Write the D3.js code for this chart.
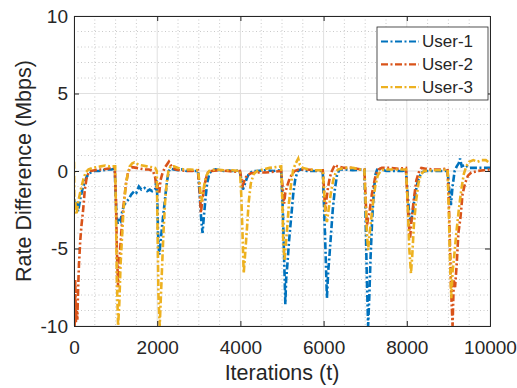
<!DOCTYPE html>
<html><head><meta charset="utf-8">
<script src="https://cdn.jsdelivr.net/npm/d3@7"></script>
<style>body{margin:0;background:#fff}svg{display:block}text{font-family:"Liberation Sans",Arial,Helvetica,sans-serif;fill:#262626}</style>
</head><body>
<script>
const seriesNames = ["User-1","User-2","User-3"];
const seriesColors = ["#0072BD","#D95319","#EDB120"];
const xTicks = [0,2000,4000,6000,8000,10000];
const yTicks = [-10,-5,0,5,10];
const user1 = [[0,-1.8],[30,-2.4],[60,-2.0],[100,-2.6],[150,-1.8],[200,-1.2],[250,-0.8],[300,-0.4],[350,-0.2],[400,-0.1],[500,0],[600,0],[700,0.05],[800,0.1],[900,0.1],[980,0.15],
[1000,-1.5],[1020,-2.8],[1050,-3.4],[1080,-3.0],[1120,-3.2],[1160,-2.6],[1200,-2.2],[1260,-2.0],[1320,-1.8],[1380,-1.5],[1450,-1.3],[1500,-1.4],[1560,-1.0],[1620,-1.2],[1700,-1.1],[1760,-1.3],[1820,-1.2],[1880,-1.3],[1950,-1.2],[1980,-0.6],
[2000,-1.5],[2020,-4.0],[2050,-5.4],[2080,-4.6],[2120,-3.5],[2160,-2.5],[2200,-1.5],[2240,-0.6],[2280,0],[2320,0.15],[2400,0.1],[2500,0.05],[2600,0.1],[2700,0],[2800,0.05],[2900,0],[2980,0],
[3020,-1.5],[3060,-3.2],[3090,-4.0],[3120,-3.0],[3160,-1.8],[3200,-0.8],[3250,-0.2],[3300,0],[3400,0.1],[3500,0.05],[3600,0],[3700,0.05],[3800,0],[3900,0],[3980,0.05],
[4020,-0.5],[4060,-1.2],[4100,-0.9],[4150,-0.5],[4200,-0.2],[4300,0],[4400,0],[4600,0.05],[4800,0],[4980,0.05],
[5020,-2.5],[5050,-5.5],[5080,-8.6],[5100,-7.0],[5130,-6.0],[5170,-4.5],[5220,-3.0],[5270,-1.5],[5320,-0.5],[5380,0],[5450,0.1],[5600,0],[5800,0],[5980,0],
[6020,-3.0],[6050,-5.5],[6080,-8.2],[6110,-6.5],[6140,-5.5],[6180,-4.0],[6220,-2.5],[6270,-1.2],[6320,-0.3],[6380,0.1],[6500,0.1],[6700,0.05],[6900,0.1],[6980,0.1],
[7010,-3],[7040,-7],[7070,-10],[7100,-8],[7130,-5.5],[7170,-3],[7210,-1.2],[7250,-0.2],[7300,0.2],[7400,0.1],[7500,0],[7700,0],[7900,0],[7980,0.05],
[8020,-1.5],[8060,-2.8],[8100,-3.3],[8150,-2.5],[8200,-1.5],[8270,-0.6],[8350,-0.1],[8450,0],[8600,0],[8800,0],[8980,0],
[9020,-1.2],[9060,-2.2],[9100,-1.0],[9150,0],[9200,0.3],[9250,0.5],[9280,0.8],[9320,0.3],[9400,0.4],[9500,0.2],[9700,0.2],[9850,0.2],[10000,0.2]];
const user2 = [[0,-8],[15,-10],[30,-7],[45,-9.8],[60,-8.5],[80,-9.6],[100,-7.5],[120,-6],[150,-4.5],[180,-3.5],[220,-2.5],[260,-1.2],[300,-0.5],[350,-0.1],[400,0],[500,0.05],[600,0.1],[700,0.1],[800,0.15],[900,0.2],[980,0.2],
[1010,-2],[1030,-5],[1060,-7.5],[1080,-6.5],[1110,-5],[1150,-3.5],[1200,-2],[1250,-0.8],[1300,-0.1],[1350,0.2],[1400,0.25],[1500,0.2],[1600,0.15],[1700,0.1],[1800,0.1],[1900,0],[1950,-0.4],[1990,-1.2],
[2020,-0.8],[2050,-1.4],[2080,-0.6],[2120,-0.2],[2180,0.2],[2230,0.4],[2280,0.6],[2320,0.4],[2380,0.2],[2450,0.1],[2550,0.05],[2700,0],[2850,0],[2980,0.05],
[3020,-1.2],[3050,-2.7],[3080,-2.0],[3120,-1.2],[3170,-0.5],[3220,-0.1],[3300,0],[3500,0.05],[3700,0],[3900,-0.05],[3990,0],
[4030,-0.6],[4060,-0.9],[4100,-0.6],[4150,-0.3],[4250,-0.15],[4400,-0.1],[4600,-0.1],[4800,-0.05],[4980,0],
[5020,-1.2],[5050,-2.1],[5080,-1.4],[5120,-1.0],[5170,-0.6],[5220,-0.3],[5300,0],[5400,0.1],[5600,0.1],[5800,0.05],[5980,0.05],
[6010,-1.2],[6040,-2.6],[6070,-1.8],[6110,-1.0],[6150,-0.4],[6200,0],[6270,0.4],[6330,0.3],[6500,0.2],[6700,0.2],[6900,0.1],[6980,0.1],
[7010,-1.8],[7040,-3.6],[7070,-3.0],[7110,-2.5],[7160,-1.5],[7210,-0.8],[7260,-0.2],[7320,0.1],[7400,0.2],[7600,0.2],[7800,0.15],[7980,0.2],
[8010,-1.5],[8050,-3.5],[8080,-4.3],[8120,-3.0],[8170,-1.8],[8230,-0.6],[8300,0],[8350,0.2],[8450,0.15],[8600,0.1],[8800,0.1],[8980,0.15],
[9010,-2],[9040,-5],[9070,-8],[9100,-10],[9130,-7],[9160,-7.5],[9200,-6],[9240,-4],[9290,-3],[9340,-1.5],[9400,-0.8],[9470,-0.3],[9550,-0.1],[9700,0],[9850,0.05],[10000,0.1]];
const user3 = [[0,0.6],[10,-2.5],[30,-2.0],[60,-2.8],[100,-2.0],[140,-1.5],[180,-1.0],[230,-0.5],[280,-0.1],[350,0.1],[450,0.2],[550,0.25],[650,0.3],[750,0.35],[850,0.3],[950,0.3],[990,0.3],
[1010,-3],[1030,-7],[1060,-10],[1090,-8.5],[1120,-6],[1150,-4.5],[1190,-2.5],[1240,-1],[1290,-0.2],[1340,0.3],[1400,0.5],[1450,0.55],[1550,0.4],[1650,0.35],[1750,0.3],[1850,0.25],[1950,0.2],[1990,0],
[2010,-4],[2030,-8],[2060,-10],[2090,-8],[2120,-6],[2150,-4],[2190,-2],[2230,-0.7],[2270,0],[2320,0.3],[2400,0.3],[2500,0.2],[2650,0.1],[2800,0.1],[2980,0.05],
[3020,-0.8],[3060,-2.0],[3090,-1.6],[3130,-0.9],[3180,-0.3],[3250,0],[3400,0.1],[3600,0.05],[3800,0.05],[3990,0],
[4020,-1.5],[4050,-4],[4080,-6.6],[4110,-5.5],[4150,-4],[4200,-2],[4250,-0.8],[4320,-0.2],[4400,0],[4550,0.1],[4700,0.2],[4850,0.25],[4980,0.3],
[5010,-2],[5030,-4.5],[5060,-5.8],[5090,-4.8],[5130,-3.5],[5170,-2.0],[5220,-0.8],[5270,0.1],[5330,0.5],[5390,0.8],[5430,0.4],[5500,0.2],[5650,0.1],[5800,0.05],[5980,0.05],
[6010,-1.2],[6040,-2.5],[6080,-3.3],[6120,-2.5],[6170,-1.5],[6230,-0.6],[6290,-0.1],[6350,0.1],[6500,0.2],[6700,0.2],[6900,0.1],[6980,0.1],
[7010,-2],[7040,-4],[7070,-5.1],[7100,-4.2],[7140,-3.2],[7190,-2.0],[7240,-1.0],[7300,-0.3],[7370,0],[7450,0.1],[7600,0.1],[7800,0.1],[7980,0.1],
[8020,-2],[8060,-5],[8100,-6.6],[8130,-5.5],[8170,-3.5],[8220,-2.0],[8280,-0.8],[8340,-0.2],[8420,0],[8600,0.05],[8800,0.05],[8980,0.1],
[9010,-2.5],[9040,-6],[9070,-8.2],[9100,-6.5],[9140,-5.5],[9190,-4],[9250,-2.5],[9310,-1.2],[9370,-0.2],[9430,0.3],[9500,0.6],[9600,0.7],[9700,0.6],[9800,0.7],[9900,0.7],[10000,0.5]];
const series = [user1, user2, user3];

const W = 517, H = 388;
const m = {left:74, right:490, top:16, bottom:326};
const svg = d3.select("body").append("svg").attr("width",W).attr("height",H);
const x = d3.scaleLinear().domain([0,10000]).range([m.left,m.right]);
const y = d3.scaleLinear().domain([-10,10]).range([m.bottom,m.top]);
const axisColor = "#262626";
const fmt = d => String(d);

// minor grid
const g = svg.append("g");
g.selectAll(".mx").data(d3.range(0,10001,500).filter(v=>v%2000!==0)).enter().append("line")
 .attr("x1",d=>x(d)).attr("x2",d=>x(d)).attr("y1",m.top).attr("y2",m.bottom)
 .attr("stroke","#c4c4c4").attr("stroke-width",0.9).attr("stroke-dasharray","1,2.5");
g.selectAll(".my").data(d3.range(-10,11,1).filter(v=>v%5!==0)).enter().append("line")
 .attr("y1",d=>y(d)).attr("y2",d=>y(d)).attr("x1",m.left).attr("x2",m.right)
 .attr("stroke","#c4c4c4").attr("stroke-width",0.9).attr("stroke-dasharray","1,2.5");
// major grid
g.selectAll(".gx").data(xTicks).enter().append("line")
 .attr("x1",d=>x(d)).attr("x2",d=>x(d)).attr("y1",m.top).attr("y2",m.bottom)
 .attr("stroke","#e0e0e0").attr("stroke-width",1);
g.selectAll(".gy").data(yTicks).enter().append("line")
 .attr("y1",d=>y(d)).attr("y2",d=>y(d)).attr("x1",m.left).attr("x2",m.right)
 .attr("stroke","#e0e0e0").attr("stroke-width",1);

// data lines
svg.append("clipPath").attr("id","c").append("rect")
 .attr("x",m.left).attr("y",m.top-2).attr("width",m.right-m.left).attr("height",m.bottom-m.top+2);
const line = d3.line().x(d=>x(d[0])).y(d=>y(d[1]));
series.forEach((s,i)=>{
  svg.append("path").attr("d",line(s)).attr("fill","none").attr("clip-path","url(#c)")
   .attr("stroke",seriesColors[i]).attr("stroke-width",2.6)
   .attr("stroke-dasharray","7,2.5,2,2.5");
});

// axes
const tickLen = 5;
const ax = svg.append("g").attr("transform",`translate(0,${m.bottom})`)
 .call(d3.axisBottom(x).tickValues(xTicks).tickSize(-tickLen).tickPadding(15).tickFormat(fmt));
const axT = svg.append("g").attr("transform",`translate(0,${m.top})`)
 .call(d3.axisTop(x).tickValues(xTicks).tickSize(-tickLen).tickFormat(""));
const ay = svg.append("g").attr("transform",`translate(${m.left},0)`)
 .call(d3.axisLeft(y).tickValues(yTicks).tickSize(-tickLen).tickPadding(6).tickFormat(fmt));
const ayR = svg.append("g").attr("transform",`translate(${m.right},0)`)
 .call(d3.axisRight(y).tickValues(yTicks).tickSize(-tickLen).tickFormat(""));
[ax,axT,ay,ayR].forEach(a=>{
  a.select(".domain").attr("stroke",axisColor).attr("stroke-width",1);
  a.selectAll(".tick line").attr("stroke",axisColor);
  a.selectAll("text").attr("fill",axisColor).style("font-size","19px").style("font-family",'"Liberation Sans",Arial,sans-serif');
});
ax.selectAll("text").attr("dy","0.71em");

// labels
svg.append("text").attr("x",(m.left+m.right)/2).attr("y",380).attr("text-anchor","middle")
 .style("font-size","21.5px").text("Iterations (t)");
svg.append("text").attr("transform",`translate(31,${(m.top+m.bottom)/2}) rotate(-90)`)
 .attr("text-anchor","middle").style("font-size","21.5px").text("Rate Difference (Mbps)");

// legend
const lg = svg.append("g");
lg.append("rect").attr("x",377).attr("y",27).attr("width",111).attr("height",73)
 .attr("fill","#fff").attr("stroke",axisColor).attr("stroke-width",0.8);
seriesNames.forEach((n,i)=>{
  const yy = 41.5 + i*22.8;
  lg.append("line").attr("x1",381).attr("x2",419).attr("y1",yy).attr("y2",yy)
   .attr("stroke",seriesColors[i]).attr("stroke-width",2.2).attr("stroke-dasharray","7,2.5,2,2.5");
  lg.append("text").attr("x",422).attr("y",yy).attr("dy","0.35em").style("font-size","17px").text(n);
});
</script>
</body></html>
